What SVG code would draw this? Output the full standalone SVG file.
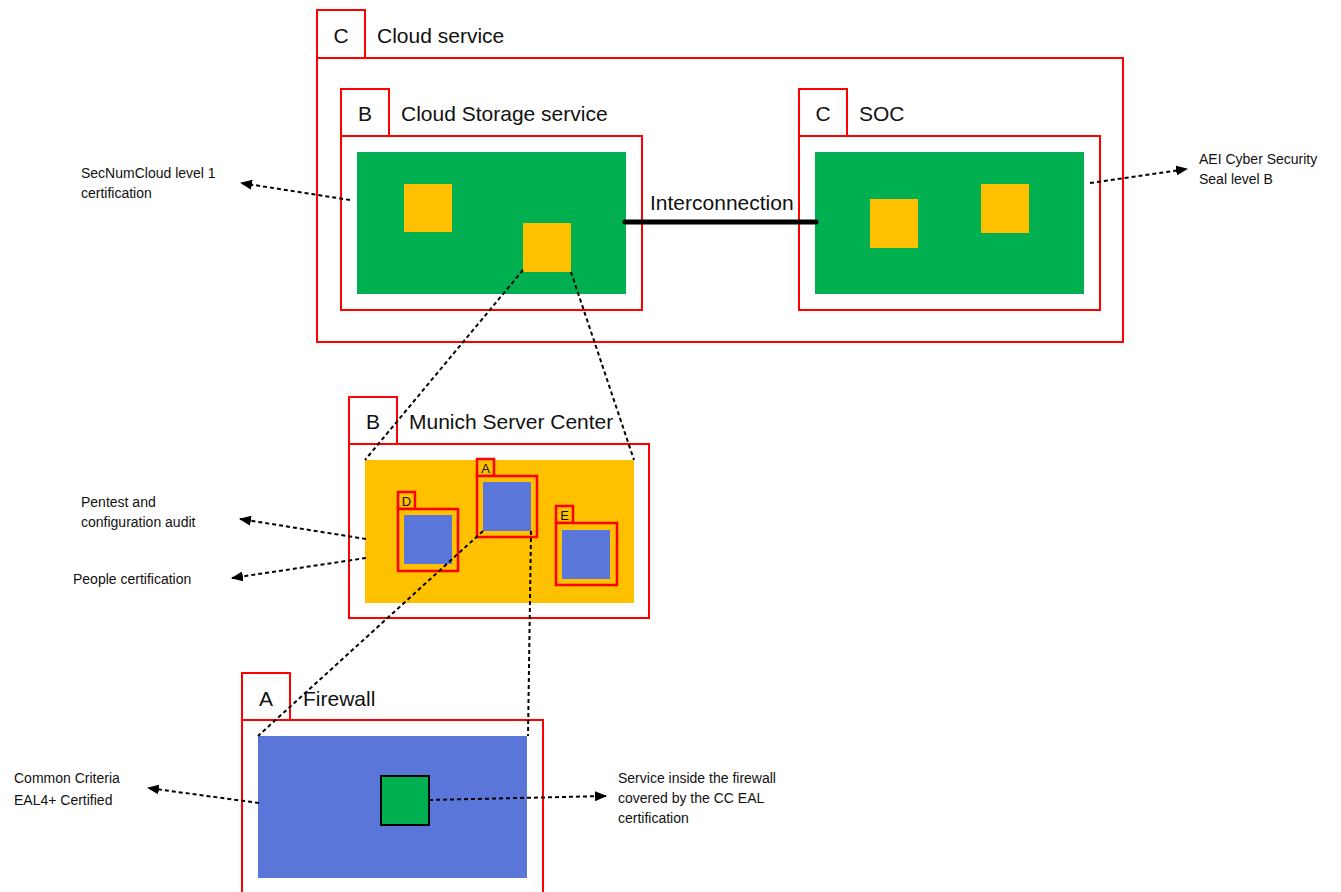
<svg xmlns="http://www.w3.org/2000/svg" width="1341" height="892" viewBox="0 0 1341 892">
<style>
.box{fill:none;stroke:#FF0000;stroke-width:2}
.lbl{fill:#fff;stroke:#FF0000;stroke-width:2}
.sm{fill:#FFC000;stroke:#FF0000;stroke-width:2.5}
.green{fill:#00B050}
.orange{fill:#FFC000}
.blue{fill:#5A76D8}
.t{font-family:"Liberation Sans",Arial,sans-serif;font-size:21px;fill:#111}
.s{font-family:"Liberation Sans",Arial,sans-serif;font-size:14px;fill:#111}
.l{font-family:"Liberation Sans",Arial,sans-serif;font-size:13px;fill:#111}
.d{fill:none;stroke:#000;stroke-width:2;stroke-dasharray:4 3}
.da{fill:none;stroke:#000;stroke-width:2;stroke-dasharray:4 3;marker-end:url(#ah)}
</style>
<defs>
<marker id="ah" viewBox="0 0 12 10" refX="11" refY="5" markerWidth="12" markerHeight="10" markerUnits="userSpaceOnUse" orient="auto">
<path d="M0,0 L12,5 L0,10 z" fill="#000"/>
</marker>
</defs>
<rect width="1341" height="892" fill="#fff"/>

<g id="cloud-service">
<rect class="box" x="317" y="58" width="806" height="284"/>
<rect class="lbl" x="317" y="10" width="48" height="48"/>
<text class="t" x="341" y="43" text-anchor="middle">C</text>
<text class="t" x="377" y="43">Cloud service</text>
</g>

<g id="cloud-storage">
<rect class="box" x="341" y="136" width="301" height="174"/>
<rect class="lbl" x="341" y="89" width="48" height="47"/>
<text class="t" x="365" y="121" text-anchor="middle">B</text>
<text class="t" x="401" y="121">Cloud Storage service</text>
<rect class="green" x="357" y="152" width="269" height="142"/>
<rect class="orange" x="404" y="184" width="48" height="48"/>
<rect class="orange" x="523" y="223" width="48" height="49"/>
</g>

<g id="soc">
<rect class="box" x="799" y="136" width="301" height="174"/>
<rect class="lbl" x="799" y="89" width="48" height="47"/>
<text class="t" x="823" y="121" text-anchor="middle">C</text>
<text class="t" x="859" y="121">SOC</text>
<rect class="green" x="815" y="152" width="269" height="142"/>
<rect class="orange" x="870" y="199" width="48" height="49"/>
<rect class="orange" x="981" y="184" width="48" height="49"/>
</g>

<g id="munich">
<rect class="box" x="349" y="444" width="300" height="174"/>
<rect class="lbl" x="349" y="397" width="48" height="47"/>
<text class="t" x="373" y="429" text-anchor="middle">B</text>
<text class="t" x="409" y="429">Munich Server Center</text>
<rect class="orange" x="365" y="460" width="269" height="143"/>
</g>

<g id="node-a">
<rect class="sm" x="477" y="459" width="17" height="17"/>
<text class="l" x="485.5" y="473" text-anchor="middle">A</text>
<rect class="sm" x="477" y="476" width="60" height="61"/>
<rect class="blue" x="483" y="482" width="48" height="49"/>
</g>
<g id="node-d">
<rect class="sm" x="398" y="492" width="17" height="17"/>
<text class="l" x="406.5" y="506" text-anchor="middle">D</text>
<rect class="sm" x="398" y="509" width="60" height="62"/>
<rect class="blue" x="404" y="515" width="48" height="49"/>
</g>
<g id="node-e">
<rect class="sm" x="556" y="506" width="17" height="17"/>
<text class="l" x="564.5" y="520" text-anchor="middle">E</text>
<rect class="sm" x="556" y="523" width="61" height="62"/>
<rect class="blue" x="562" y="530" width="48" height="49"/>
</g>

<g id="firewall">
<rect class="box" x="242" y="720" width="301" height="180"/>
<rect class="lbl" x="242" y="673" width="48" height="47"/>
<text class="t" x="266" y="706" text-anchor="middle">A</text>
<text class="t" x="303" y="706">Firewall</text>
<rect class="blue" x="258" y="736" width="269" height="142"/>
<rect x="381" y="776" width="48" height="49" fill="#00B050" stroke="#000" stroke-width="2"/>
</g>

<g id="labels">
<text class="s" x="81" y="178">SecNumCloud level 1</text>
<text class="s" x="81" y="198">certification</text>
<text class="s" x="1199" y="164">AEI Cyber Security</text>
<text class="s" x="1199" y="184">Seal level B</text>
<text class="s" x="81" y="507">Pentest and</text>
<text class="s" x="81" y="527">configuration audit</text>
<text class="s" x="73" y="584">People certification</text>
<text class="s" x="14" y="783">Common Criteria</text>
<text class="s" x="14" y="805">EAL4+ Certified</text>
<text class="s" x="618" y="783">Service inside the firewall</text>
<text class="s" x="618" y="803">covered by the CC EAL</text>
<text class="s" x="618" y="823">certification</text>
</g>

<g id="connectors">
<line x1="625" y1="222" x2="816" y2="222" stroke="#000" stroke-width="5" stroke-linecap="round"/>
<text class="t" x="650" y="210">Interconnection</text>
<line class="d" x1="523" y1="270" x2="365" y2="460"/>
<line class="d" x1="571" y1="272" x2="634" y2="460"/>
<line class="d" x1="483" y1="531" x2="258" y2="736"/>
<line class="d" x1="531" y1="531" x2="528" y2="736"/>
<line class="da" x1="350" y1="200" x2="241" y2="183"/>
<line class="da" x1="1090" y1="183" x2="1187" y2="169"/>
<line class="da" x1="366" y1="539" x2="240" y2="519"/>
<line class="da" x1="366" y1="558" x2="232" y2="578"/>
<line class="da" x1="259" y1="803" x2="148" y2="788"/>
<line class="da" x1="429" y1="800" x2="606" y2="796"/>
</g>
</svg>
